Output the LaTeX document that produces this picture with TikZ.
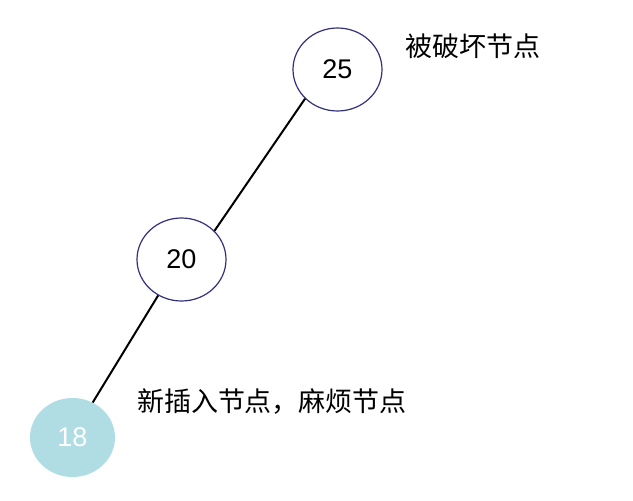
\documentclass[tikz,border=0pt]{standalone}
\usepackage{fontspec}
\usetikzlibrary{shapes.geometric}
\setmainfont{Liberation Sans}
\newfontfamily\cjk{Noto Sans CJK SC}
\definecolor{nodeborder}{HTML}{33307A}
\definecolor{newfill}{HTML}{B0DDE3}
\begin{document}
\begin{tikzpicture}[x=1pt,y=-1pt,
  treenode/.style={ellipse,draw=nodeborder,line width=1.2pt,minimum width=89pt,minimum height=83pt,inner sep=0pt,font=\fontsize{27}{29}\selectfont},
  newnode/.style={ellipse,fill=newfill,draw=none,minimum width=85pt,minimum height=79pt,inner sep=0pt,text=white,font=\fontsize{27}{29}\selectfont},
  edge/.style={draw=black,line width=2pt},
  note/.style={inner sep=0pt,font=\cjk\fontsize{27}{29}\selectfont}]
\useasboundingbox (0,0) rectangle (633,501);
\node[treenode] (n25) at (337.5,69.5) {25};
\node[treenode] (n20) at (181.5,259.5) {20};
\node[newnode] (n18) at (72.5,437.5) {18};
\draw[edge] (n25.222) -- (n20.41);
\draw[edge] (n20.237) -- (n18.60);
\node[note] (t1) at (472.5,46) {被破坏节点};
\node[note] (t2) at (272,402) {新插入节点，麻烦节点};
\end{tikzpicture}
\end{document}
